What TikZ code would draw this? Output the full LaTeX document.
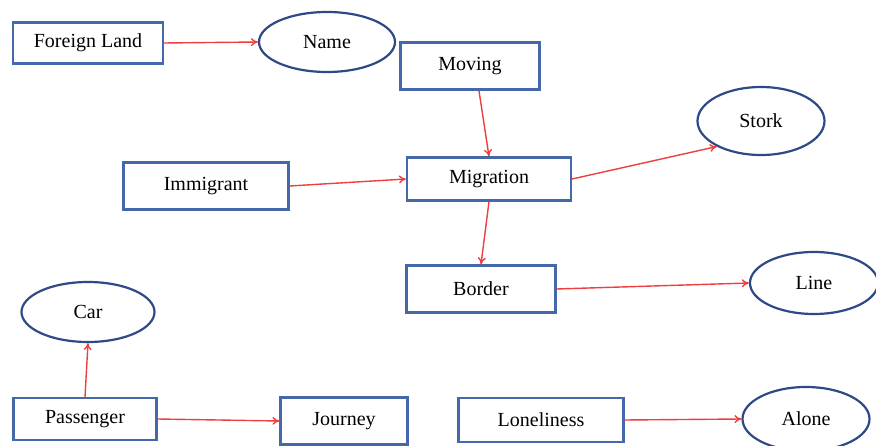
\documentclass[tikz,border=0pt]{standalone}
\usepackage{fontspec}
\setmainfont{Liberation Serif}
\usetikzlibrary{arrows.meta,shapes.geometric}
\definecolor{boxblue}{RGB}{68,104,170}
\definecolor{ovalblue}{RGB}{46,74,134}
\definecolor{linkred}{RGB}{238,62,62}

\begin{document}
\begin{tikzpicture}[x=1pt,y=-1pt,
    box/.style={draw=boxblue,line width=2.2pt,rectangle,inner sep=0pt,font=\fontsize{20}{24}\selectfont},
    oval/.style={draw=ovalblue,line width=2.2pt,ellipse,inner sep=0pt,font=\fontsize{20}{24}\selectfont},
    link/.style={linkred,line width=1.4pt,-{To[length=7pt,width=8pt]}}]
    \useasboundingbox (0,0) rectangle (876,446);
    \clip (0,0) rectangle (876,446);
    % boxes
    \node[box,minimum width=150pt,minimum height=41pt] (fland) at (88,43) {Foreign Land};
    \node[box,minimum width=139pt,minimum height=47pt] (moving) at (470,66) {Moving};
    \node[box,minimum width=165pt,minimum height=47pt] (immigrant) at (206,186) {Immigrant};
    \node[box,minimum width=164pt,minimum height=43pt] (migration) at (489,179) {Migration};
    \node[box,minimum width=149pt,minimum height=47pt] (border) at (481,289) {Border};
    \node[box,minimum width=143pt,minimum height=42pt] (passenger) at (85,419) {Passenger};
    \node[box,minimum width=127pt,minimum height=47pt] (journey) at (344,421) {Journey};
    \node[box,minimum width=165pt,minimum height=44pt] (loneliness) at (541,420) {Loneliness};
    % ovals
    \node[oval,minimum width=136pt,minimum height=60pt] (name) at (327,42) {Name};
    \node[oval,minimum width=127pt,minimum height=68pt] (stork) at (761,121) {Stork};
    \node[oval,minimum width=128pt,minimum height=62pt] (line) at (814,283) {Line};
    \node[oval,minimum width=133pt,minimum height=60pt] (car) at (88,312) {Car};
    \node[oval,minimum width=127pt,minimum height=64pt] (alone) at (806,419) {Alone};
    % links
    \draw[link] (fland.east) -- (name.west);
    \draw[link] (moving.290) -- (migration.north);
    \draw[link] (immigrant.east) -- (migration.west);
    \draw[link] (migration.east) -- (stork.210);
    \draw[link] (migration.south) -- (border.north);
    \draw[link] (border.east) -- (line.west);
    \draw[link] (passenger.north) -- (car.south);
    \draw[link] (passenger.east) -- (journey.west);
    \draw[link] (loneliness.east) -- (alone.west);
\end{tikzpicture}
\end{document}
